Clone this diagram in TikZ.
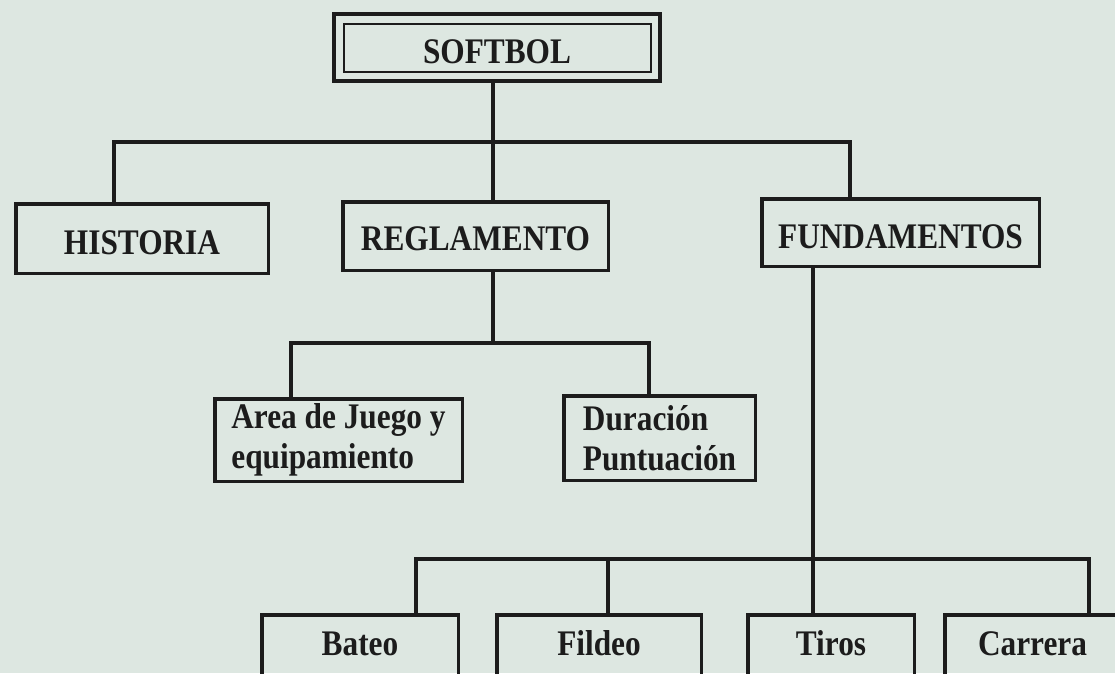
\documentclass[tikz,border=0pt]{standalone}
\usepackage{fontspec}
\newfontfamily\lblfont[FakeStretch=0.87]{Liberation Serif}
\usetikzlibrary{calc}
\definecolor{paper}{RGB}{221,231,225}
\definecolor{ink}{RGB}{28,28,28}
\begin{document}
\begin{tikzpicture}[x=1pt,y=-1pt,
  box/.style={draw=ink, line width=3.5pt, minimum width=#1, inner sep=0pt, outer sep=0pt,
    font=\lblfont\bfseries\fontsize{36}{40}\selectfont, text=ink, align=left},
  lowtext/.style={text height=31pt, text depth=0pt},
  hightext/.style={text height=16pt, text depth=0pt},
  wire/.style={draw=ink, line width=3.5pt, line join=miter, line cap=rect}
]
\fill[paper] (0,0) rectangle (1115,673);
\useasboundingbox (0,0) rectangle (1115,673);
\clip (0,0) rectangle (1115,673);

% nodes
\node[box=326, minimum height=67, line width=4.5pt, lowtext] (s) at (497,47.5) {SOFTBOL};
\draw[ink, line width=1.5pt] ($(s.north west)+(10,10)$) rectangle ($(s.south east)+(-9,-9)$);

\node[box=252.5, minimum height=69.5, lowtext] (h) at (142,238.5) {HISTORIA};
\node[box=265.5, minimum height=68.5, text height=28pt, text depth=0pt] (r) at (475.5,236) {REGLAMENTO};
\node[box=277.5, minimum height=67.5, lowtext] (f) at (900.5,232.5) {FUNDAMENTOS};

\node[box=247.5, minimum height=82.5] (a) at (338.5,440) {Area de Juego y\\equipamiento};
\node[box=191.5, minimum height=84.5] (d) at (659.5,438) {Duración\\Puntuación};

\node[box=196.5, minimum height=65.5, hightext] (ba) at (360,647.5) {Bateo};
\node[box=204.5, minimum height=65.5, hightext] (fi) at (599,647.5) {Fildeo};
\node[box=166.5, minimum height=65.5, hightext] (ti) at (831,647.5) {Tiros};
\node[box=175.5, minimum height=65.5, hightext] (ca) at (1032.5,647.5) {Carrera};

% bus coordinates
\coordinate (b1l) at (114,142);
\coordinate (b1m) at (493,142);
\coordinate (b1r) at (850,142);
\coordinate (b2l) at (291,343);
\coordinate (b2m) at (493,343);
\coordinate (b2r) at (649,343);
\coordinate (b3a) at (416,559);
\coordinate (b3b) at (608,559);
\coordinate (b3c) at (813,559);
\coordinate (b3d) at (1089,559);

% connectors
\draw[wire] (s.south -| b1m) -- (r.north -| b1m);
\draw[wire] (h.north -| b1l) -- (b1l) -- (b1r) -- (f.north -| b1r);

\draw[wire] (r.south -| b2m) -- (b2m);
\draw[wire] (a.north -| b2l) -- (b2l) -- (b2r) -- (d.north -| b2r);

\draw[wire] (f.south -| b3c) -- (ti.north -| b3c);
\draw[wire] (ba.north -| b3a) -- (b3a) -- (b3d) -- (ca.north -| b3d);
\draw[wire] (b3b) -- (fi.north -| b3b);
\end{tikzpicture}
\end{document}
